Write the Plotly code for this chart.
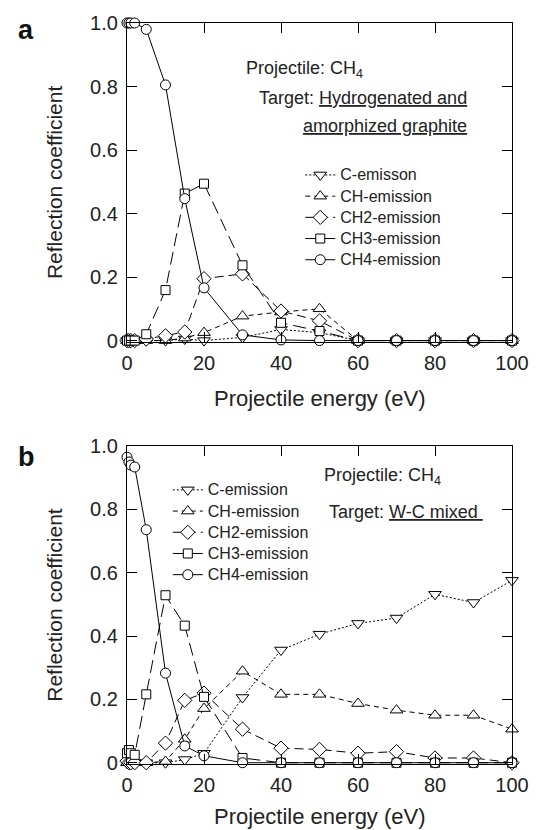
import plotly.graph_objects as go

# ---------------- data ----------------
energy = [0, 0.5, 1, 2, 5, 10, 15, 20, 30, 40, 50, 60, 70, 80, 90, 100]

# panel a: hydrogenated & amorphized graphite
a_C   = [0, 0, 0, 0, 0, 0, 0.005, 0.0, 0.01, 0.035, 0.025, 0, 0, 0, 0, 0]
a_CH  = [0, 0, 0, 0, 0, 0, 0.008, 0.025, 0.077, 0.09, 0.10, 0, 0, 0, 0, 0]
a_CH2 = [0, 0, 0, 0, 0.005, 0.015, 0.027, 0.195, 0.21, 0.093, 0.062, 0, 0, 0, 0, 0]
a_CH3 = [0, 0, 0, 0, 0.02, 0.159, 0.463, 0.494, 0.237, 0.056, 0.03, 0, 0, 0, 0, 0]
a_CH4 = [1.0, 1.0, 1.0, 1.0, 0.98, 0.805, 0.447, 0.166, 0.018, 0.002, 0.0, 0, 0, 0, 0, 0]

# panel b: W-C mixed
b_C   = [0, 0, 0, 0, 0, 0.0, 0.01, 0.03, 0.206, 0.356, 0.406, 0.44, 0.457, 0.532, 0.506, 0.576]
b_CH  = [0, 0, 0, 0, 0, 0.004, 0.074, 0.171, 0.289, 0.216, 0.216, 0.187, 0.166, 0.15, 0.15, 0.106]
b_CH2 = [0.005, 0, 0, 0, 0.0, 0.062, 0.197, 0.22, 0.106, 0.046, 0.042, 0.03, 0.035, 0.015, 0.015, 0.0]
b_CH3 = [0.03, 0.04, 0.03, 0.025, 0.216, 0.529, 0.433, 0.208, 0.015, 0.0, 0.0, 0, 0, 0, 0, 0]
b_CH4 = [0.965, 0.95, 0.94, 0.934, 0.736, 0.283, 0.053, 0.022, 0.0, 0, 0, 0, 0, 0, 0, 0]

names_a = ["C-emisson", "CH-emission", "CH2-emission", "CH3-emission", "CH4-emission"]
names_b = ["C-emission", "CH-emission", "CH2-emission", "CH3-emission", "CH4-emission"]

x_ticks = [0, 20, 40, 60, 80, 100]
y_ticks = [0, 0.2, 0.4, 0.6, 0.8, 1.0]
y_ticktext = ["0", "0.2", "0.4", "0.6", "0.8", "1.0"]

# ---------------- styles ----------------
symbols = ["triangle-down", "triangle-up", "diamond", "square", "circle"]
sizes = [11, 11, 11, 9, 10]
dashes = ["2px,2px", "5px,4px", "9px,5px", "13px,6px", "solid"]

FONT = "Liberation Sans, Arial, Helvetica, sans-serif"
TXT = "#222"

fig = go.Figure()

def add_panel(series, names, xa, ya, legend):
    for i, (vals, nm) in enumerate(zip(series, names)):
        fig.add_trace(go.Scatter(
            x=energy, y=vals, name='<span style="font-size:16px">%s</span>' % nm,
            mode="lines+markers", xaxis=xa, yaxis=ya, legend=legend,
            line=dict(color="black", width=1, dash=dashes[i]),
            marker=dict(symbol=symbols[i], size=sizes[i], color="white",
                        line=dict(color="black", width=1)),
            cliponaxis=False,
        ))

add_panel([a_C, a_CH, a_CH2, a_CH3, a_CH4], names_a, "x", "y", "legend")
add_panel([b_C, b_CH, b_CH2, b_CH3, b_CH4], names_b, "x2", "y2", "legend2")

axis_common = dict(
    showline=True, linecolor="black", linewidth=1.2, mirror="ticks",
    ticks="inside", ticklen=10, tickwidth=1.2, tickcolor="black",
    showgrid=False, zeroline=False,
    tickfont=dict(family=FONT, size=20, color=TXT),
)
yt = dict(text="Reflection coefficient", font=dict(family=FONT, size=21, color=TXT), standoff=21)

fig.update_layout(
    width=543, height=830,
    margin=dict(l=127, r=31, t=18, b=66),
    paper_bgcolor="white", plot_bgcolor="white",
    font=dict(family=FONT, color=TXT),
    xaxis=dict(axis_common, domain=[0, 1], anchor="y", range=[0, 100],
               tickvals=x_ticks, ticklabelstandoff=3),
    yaxis=dict(axis_common, domain=[0.5697, 1], anchor="x", range=[-0.004, 1.0],
               tickvals=y_ticks, ticktext=y_ticktext, title=yt, ticklabelstandoff=4),
    xaxis2=dict(axis_common, domain=[0, 1], anchor="y2", range=[0, 100],
                tickvals=x_ticks, ticklabelstandoff=3),
    yaxis2=dict(axis_common, domain=[0, 0.429], anchor="x2", range=[-0.004, 1.0],
                tickvals=y_ticks, ticktext=y_ticktext, title=yt, ticklabelstandoff=4),
    legend=dict(x=0.45, y=0.816, xanchor="left", yanchor="top",
                bgcolor="rgba(0,0,0,0)", font=dict(family=FONT, size=14, color=TXT),
                tracegroupgap=0),
    legend2=dict(x=0.106, y=0.391, xanchor="left", yanchor="top",
                 bgcolor="rgba(0,0,0,0)", font=dict(family=FONT, size=14, color=TXT),
                 tracegroupgap=0),
    showlegend=True,
)

ann_font = dict(family=FONT, size=18, color=TXT)
title_font = dict(family=FONT, size=22, color=TXT)
annotations = [
    dict(text="<b>a</b>", x=-0.262, y=0.99, font=dict(family=FONT, size=27, color="#111")),
    dict(text="<b>b</b>", x=-0.262, y=0.414, font=dict(family=FONT, size=27, color="#111")),
    dict(text="Projectile energy (eV)", x=0.5, y=(764 - 396) / 746, font=title_font),
    dict(text="Projectile energy (eV)", x=0.5, y=(764 - 817) / 746, font=title_font),
    dict(text="Projectile: CH<sub>4</sub>", x=(244 - 127) / 385, y=(764 - 65) / 746,
         xanchor="left", font=ann_font),
    dict(text="Target: <u>Hydrogenated and</u>", x=(469 - 127) / 385, y=(764 - 94) / 746,
         xanchor="right", font=ann_font),
    dict(text="<u>amorphized graphite</u>", x=(469 - 127) / 385, y=(764 - 122) / 746,
         xanchor="right", font=ann_font),
    dict(text="Projectile: CH<sub>4</sub>", x=(322 - 127) / 385, y=(764 - 475) / 746,
         xanchor="left", font=ann_font),
    dict(text="Target: <u>W-C mixed&nbsp;</u>", x=(327 - 127) / 385, y=(764 - 510) / 746,
         xanchor="left", font=ann_font),
]
for a in annotations:
    a.setdefault("xanchor", "center")
    fig.add_annotation(xref="paper", yref="paper", showarrow=False, yanchor="middle", **a)

fig.write_html("out.html")
